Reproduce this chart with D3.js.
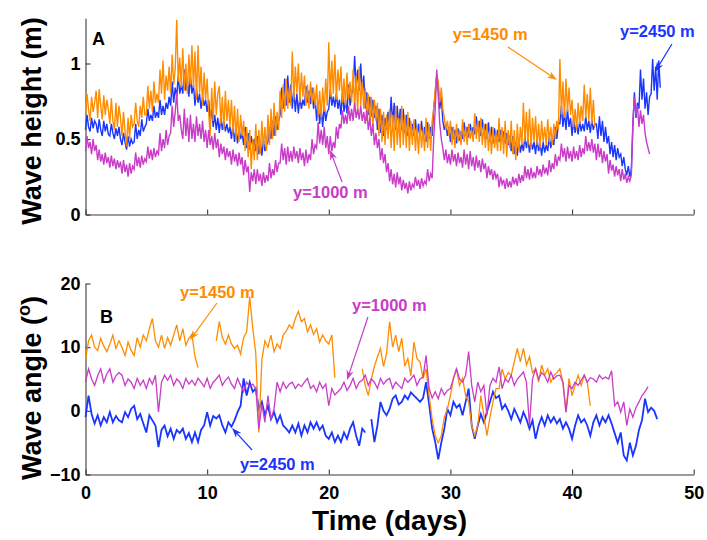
<!DOCTYPE html>
<html>
<head>
<meta charset="utf-8">
<script src="https://cdn.jsdelivr.net/npm/d3@7"></script>
<style>
  body { margin: 0; background: #fff; }
  svg { display: block; }
  text { font-family: "Liberation Sans", Arial, Helvetica, sans-serif; font-weight: bold; }
</style>
</head>
<body>
<svg id="fig" width="707" height="540"></svg>
<script>
// Sampling intervals (days): wave height every 3 h, wave angle every 6 h
const dtH = 0.125;
const dtA = 0.25;

// Significant wave height (m) at the three alongshore stations
const hs1000 = [
  0.42,0.52,0.44,0.48,0.40,0.50,0.42,0.46, 0.36,0.43,0.35,0.40,0.33,0.41,0.34,0.38,
  0.31,0.39,0.32,0.37,0.30,0.36,0.31,0.35, 0.27,0.36,0.28,0.33,0.25,0.34,0.27,0.32,
  0.30,0.41,0.32,0.38,0.31,0.39,0.33,0.37, 0.35,0.45,0.37,0.43,0.36,0.44,0.38,0.42,
  0.40,0.54,0.42,0.50,0.44,0.56,0.46,0.52, 0.54,0.72,0.58,0.68,0.81,0.62,0.66,0.56,
  0.50,0.70,0.52,0.64,0.48,0.66,0.50,0.60, 0.48,0.65,0.52,0.60,0.50,0.62,0.48,0.56,
  0.44,0.56,0.46,0.52,0.43,0.54,0.44,0.50, 0.38,0.47,0.40,0.45,0.36,0.44,0.38,0.42,
  0.33,0.43,0.35,0.40,0.32,0.41,0.33,0.38, 0.26,0.36,0.28,0.32,0.15,0.28,0.22,0.30,
  0.20,0.30,0.22,0.27,0.19,0.28,0.21,0.26, 0.22,0.34,0.24,0.30,0.26,0.36,0.28,0.34,
  0.34,0.47,0.36,0.44,0.33,0.45,0.35,0.42, 0.35,0.45,0.37,0.42,0.34,0.44,0.36,0.41,
  0.32,0.43,0.34,0.40,0.36,0.50,0.40,0.46, 0.44,0.61,0.47,0.56,0.46,0.58,0.44,0.52,
  0.40,0.52,0.42,0.48,0.44,0.58,0.50,0.60, 0.57,0.69,0.60,0.66,0.60,0.72,0.62,0.70,
  0.62,0.74,0.64,0.70,0.63,0.72,0.62,0.68, 0.60,0.69,0.56,0.64,0.52,0.60,0.46,0.54,
  0.44,0.50,0.36,0.44,0.34,0.40,0.28,0.34, 0.22,0.30,0.20,0.27,0.18,0.28,0.20,0.25,
  0.16,0.23,0.17,0.21,0.14,0.22,0.16,0.20, 0.18,0.25,0.19,0.23,0.17,0.24,0.19,0.22,
  0.20,0.30,0.22,0.27,0.24,0.50,0.70,0.96, 0.78,0.60,0.50,0.44,0.36,0.43,0.34,0.40,
  0.33,0.43,0.35,0.40,0.32,0.41,0.34,0.38, 0.31,0.43,0.33,0.40,0.30,0.42,0.32,0.38,
  0.29,0.39,0.31,0.36,0.28,0.37,0.30,0.34, 0.24,0.32,0.26,0.30,0.23,0.29,0.24,0.27,
  0.18,0.25,0.20,0.23,0.17,0.24,0.18,0.22, 0.18,0.25,0.20,0.24,0.19,0.27,0.21,0.26,
  0.22,0.32,0.24,0.30,0.23,0.31,0.24,0.28, 0.24,0.32,0.26,0.30,0.25,0.33,0.27,0.31,
  0.26,0.36,0.28,0.34,0.30,0.40,0.32,0.38, 0.36,0.47,0.38,0.44,0.35,0.45,0.37,0.42,
  0.35,0.45,0.37,0.42,0.36,0.46,0.38,0.44, 0.40,0.52,0.42,0.48,0.42,0.50,0.41,0.47,
  0.36,0.47,0.38,0.44,0.34,0.42,0.35,0.40, 0.27,0.36,0.29,0.33,0.25,0.32,0.26,0.30,
  0.22,0.30,0.23,0.27,0.21,0.25,0.22,0.26, 0.62,0.78,0.66,0.72,0.58,0.69,0.60,0.66,
  0.54,0.48,0.44,0.40
];
const hs1450 = [
  0.66,0.80,0.70,0.62,0.78,0.68,0.74,0.82, 0.64,0.83,0.72,0.63,0.79,0.66,0.76,0.70,
  0.60,0.77,0.62,0.56,0.74,0.58,0.72,0.64, 0.52,0.68,0.55,0.45,0.64,0.50,0.66,0.58,
  0.60,0.74,0.62,0.58,0.72,0.64,0.78,0.66, 0.66,0.85,0.70,0.82,0.68,0.88,0.74,0.80,
  0.74,0.96,0.80,1.02,0.76,0.92,0.82,0.98, 0.80,1.06,0.86,0.96,1.29,0.88,1.04,0.84,
  1.10,0.82,1.00,0.80,1.06,0.86,1.12,0.84, 1.08,0.76,1.12,0.80,0.98,0.72,0.94,0.76,
  0.90,0.68,0.52,0.84,0.62,0.88,0.66,0.80, 0.85,0.60,0.78,0.56,0.82,0.62,0.76,0.58,
  0.76,0.54,0.72,0.50,0.70,0.48,0.66,0.52, 0.62,0.42,0.58,0.38,0.56,0.30,0.50,0.36,
  0.60,0.36,0.56,0.40,0.62,0.44,0.58,0.42, 0.66,0.46,0.70,0.50,0.74,0.52,0.68,0.56,
  0.82,0.64,0.86,0.68,0.90,0.70,0.84,0.72, 1.08,0.76,0.98,0.80,1.00,0.74,0.94,0.78,
  0.92,0.72,0.86,0.70,0.88,0.74,0.84,0.72, 0.86,0.66,0.82,0.64,0.84,0.68,0.90,0.72,
  1.14,0.78,1.02,0.80,1.06,0.76,0.96,0.82, 0.98,0.74,0.90,0.72,0.94,0.76,0.88,0.74,
  0.96,0.70,0.92,0.68,0.98,0.72,0.88,0.70, 0.84,0.62,0.80,0.60,0.78,0.58,0.76,0.62,
  0.74,0.52,0.70,0.48,0.68,0.46,0.66,0.50, 0.70,0.44,0.66,0.42,0.72,0.46,0.64,0.44,
  0.72,0.46,0.66,0.44,0.68,0.42,0.62,0.46, 0.63,0.42,0.58,0.40,0.60,0.44,0.56,0.42,
  0.64,0.44,0.60,0.42,0.62,0.70,0.82,0.93, 0.88,0.74,0.84,0.70,0.64,0.56,0.62,0.52,
  0.62,0.46,0.58,0.44,0.60,0.48,0.56,0.46, 0.63,0.48,0.58,0.46,0.60,0.50,0.56,0.48,
  0.67,0.50,0.62,0.48,0.64,0.46,0.60,0.44, 0.60,0.42,0.56,0.40,0.58,0.44,0.54,0.42,
  0.64,0.42,0.58,0.40,0.62,0.38,0.56,0.44, 0.62,0.40,0.56,0.36,0.60,0.42,0.58,0.46,
  0.74,0.48,0.68,0.46,0.70,0.44,0.64,0.48, 0.65,0.46,0.60,0.44,0.62,0.48,0.58,0.46,
  0.63,0.48,0.58,0.46,0.60,0.50,0.62,0.56, 1.03,0.66,0.88,0.64,0.90,0.68,0.84,0.66,
  0.76,0.58,0.70,0.56,0.74,0.60,0.72,0.62, 0.86,0.64,0.80,0.62,0.84,0.60,0.76,0.58
];
const hs2450 = [
  0.56,0.66,0.58,0.55,0.64,0.57,0.62,0.60, 0.54,0.63,0.56,0.52,0.62,0.55,0.60,0.53,
  0.52,0.60,0.54,0.50,0.57,0.52,0.58,0.50, 0.46,0.54,0.48,0.43,0.52,0.45,0.50,0.47,
  0.48,0.60,0.50,0.56,0.52,0.63,0.55,0.58, 0.60,0.70,0.62,0.66,0.62,0.72,0.64,0.68,
  0.64,0.76,0.66,0.72,0.66,0.74,0.70,0.78, 0.72,0.88,0.74,0.84,0.78,0.92,0.80,0.86,
  0.80,0.96,0.82,0.90,0.78,0.92,0.80,0.86, 0.72,0.83,0.74,0.80,0.70,0.78,0.72,0.76,
  0.68,0.76,0.62,0.70,0.58,0.66,0.56,0.64, 0.54,0.65,0.56,0.62,0.55,0.60,0.54,0.58,
  0.50,0.60,0.48,0.56,0.47,0.58,0.50,0.54, 0.46,0.58,0.44,0.54,0.43,0.52,0.45,0.50,
  0.42,0.52,0.40,0.48,0.39,0.50,0.42,0.46, 0.48,0.58,0.50,0.62,0.52,0.65,0.56,0.62,
  0.66,0.84,0.70,0.90,0.72,0.92,0.74,0.86, 0.70,0.83,0.68,0.80,0.67,0.78,0.70,0.76,
  0.72,0.85,0.74,0.82,0.73,0.84,0.70,0.78, 0.62,0.74,0.60,0.70,0.58,0.72,0.62,0.68,
  0.70,0.83,0.72,0.78,0.71,0.80,0.70,0.76, 0.66,0.81,0.68,0.76,0.67,0.86,0.72,0.80,
  0.82,1.05,0.84,0.96,0.82,1.00,0.80,0.92, 0.70,0.81,0.66,0.78,0.65,0.76,0.64,0.72,
  0.56,0.70,0.54,0.66,0.52,0.64,0.56,0.68, 0.58,0.78,0.60,0.74,0.56,0.72,0.58,0.70,
  0.56,0.70,0.54,0.66,0.52,0.64,0.54,0.60, 0.52,0.63,0.50,0.60,0.52,0.62,0.50,0.58,
  0.48,0.61,0.50,0.58,0.52,0.70,0.80,0.92, 0.84,0.70,0.78,0.62,0.56,0.60,0.52,0.58,
  0.48,0.58,0.50,0.56,0.47,0.57,0.49,0.55, 0.50,0.61,0.52,0.58,0.51,0.60,0.53,0.58,
  0.53,0.65,0.55,0.62,0.52,0.63,0.54,0.60, 0.50,0.61,0.48,0.58,0.47,0.57,0.49,0.56,
  0.48,0.56,0.49,0.55,0.47,0.54,0.46,0.52, 0.42,0.52,0.40,0.48,0.39,0.50,0.41,0.47,
  0.42,0.52,0.44,0.50,0.41,0.49,0.43,0.48, 0.40,0.50,0.42,0.47,0.39,0.48,0.41,0.46,
  0.42,0.52,0.44,0.50,0.46,0.58,0.50,0.60, 0.60,0.72,0.58,0.68,0.56,0.70,0.58,0.64,
  0.52,0.63,0.54,0.60,0.53,0.62,0.55,0.60, 0.55,0.65,0.56,0.62,0.54,0.63,0.56,0.60,
  0.60,0.50,0.65,0.52,0.62,0.48,0.58,0.47, 0.52,0.40,0.48,0.38,0.46,0.36,0.44,0.38,
  0.40,0.32,0.38,0.30,0.26,0.32,0.25,0.30, 0.58,0.81,0.64,0.74,0.70,0.96,0.76,0.90,
  0.70,0.81,0.66,0.78,0.80,1.03,0.82,0.98, 0.76,1.02,0.84
];

// Mean wave angle (degrees); null marks missing records
const ang1000 = [
  4.5,6.6,5.0,4.0, 5.5,6.6,4.5,5.8, 6.6,4.5,5.5,6.0, 5.6,4.0,5.0,4.5,
  3.5,5.1,4.0,4.8, 3.5,5.1,4.2,5.6, -0.2,4.5,5.6,4.8, 5.6,4.0,5.0,4.5,
  3.5,5.1,4.2,4.8, 4.0,5.1,4.5,3.8, 5.1,3.5,4.5,5.0, 5.6,4.0,4.8,5.3,
  4.2,3.5,5.1,4.0, 3.0,4.5,3.8,4.2, 3.5,-2.8,1.0,-1.8, 2.4,-1.3,0.3,4.5,
  3.0,4.5,3.5,4.2, 4.5,3.5,4.2,3.8, 4.5,5.1,3.5,4.0, 3.0,4.5,3.5,4.2,
  0.8,3.5,2.5,3.0, 3.5,4.5,3.2,4.0, 5.1,3.5,4.5,4.8, 5.6,4.0,5.0,4.5,
  3.5,5.1,4.2,4.8, 5.1,3.5,4.5,4.0, 3.5,5.1,4.5,5.0, 5.6,4.0,5.0,5.3,
  8.7,3.5,2.0,3.0, 1.9,3.5,2.5,3.2, 3.5,5.1,6.6,5.0, 4.5,5.6,9.3,4.0,
  1.4,4.5,3.0,4.0, -0.7,4.0,5.1,4.5, 6.9,3.5,5.0,4.5, 5.6,4.0,5.0,5.5,
  6.1,4.5,-2.3,5.0, 6.6,5.0,6.0,5.5, 4.5,6.1,5.0,5.5, 5.6,4.5,-0.2,4.0,
  3.5,4.5,4.0,4.8, 5.6,4.5,5.2,5.0, 4.5,5.6,5.0,5.3, 5.0,6.3,0.8,1.4,
  -0.2,1.4,-2.3,0.3, -1.0,0.5,1.4,2.4, 3.0,3.8
];
const ang1450 = [
  8.0,11.0,11.9,10.0, 9.5,11.4,10.2,9.3, 10.5,11.9,9.8,11.0, 10.0,8.7,10.8,9.5,
  8.7,11.5,10.0,11.9, 11.0,12.9,14.5,11.0, 10.0,11.9,9.8,11.5, 10.3,11.9,13.5,11.0,
  12.9,10.3,11.4,12.0, 8.5,6.8,null,null, null,null,null,11.0, 14.0,11.5,10.5,11.9,
  10.5,9.8,10.3,8.9, 11.5,12.4,17.9,13.0, 9.0,-3.4,8.0,11.0, 10.0,11.9,9.3,10.5,
  9.8,11.9,12.5,13.5, 12.9,14.5,15.6,14.0, 14.5,12.4,13.5,12.0, 12.9,10.8,11.9,11.0,
  10.5,11.9,5.2,null, null,null,null,null, null,null,null,6.6, 4.0,2.4,5.0,7.0,
  8.5,9.8,7.0,9.0, 14.0,10.0,11.9,9.3, 11.4,7.0,8.2,5.5, 10.8,8.2,7.7,5.1,
  6.6,2.4,-1.3,-3.9, -5.0,-3.9,-1.0,0.3, 2.4,5.1,6.6,4.0, 5.1,2.4,1.4,-2.3,
  -3.9,-2.3,2.4,-0.7, -3.9,-1.0,1.4,3.5, 3.5,6.6,5.0,6.0, 5.6,7.7,9.8,7.7,
  9.8,7.2,8.5,6.0, 6.6,4.5,7.2,5.6, 6.6,4.5,5.5,6.0, 6.6,4.5,-0.2,5.1,
  2.4,4.0,5.6,4.0, 5.6,4.5,0.8
];
const ang2450 = [
  -1.0,2.4,-0.5,-2.0, -0.7,-2.3,-1.0,-1.8, -0.2,-1.8,-0.8,-1.5, -1.8,-0.2,-1.0,0.3,
  0.8,-1.3,-0.5,-2.0, -3.4,-0.7,-1.5,-2.3, -5.7,-3.0,-2.3,-4.0, -2.8,-4.4,-3.0,-3.5,
  -2.8,-4.4,-3.5,-4.9, -3.4,-4.9,-3.0,-2.3, -0.2,-2.3,-0.8,-1.2, -0.7,-2.3,-3.4,-1.8,
  -2.5,-1.5,-0.2,0.8, 5.1,2.4,4.5,3.0, 3.5,0.3,1.4,-0.7, 0.8,-1.3,-0.2,-1.8,
  -0.7,-2.3,-2.8,-3.4, -2.3,-3.4,-2.0,-3.9, -2.3,-3.4,-1.8,-2.8, -1.8,-3.0,-2.3,-3.9,
  -4.4,-3.4,-4.9,-3.9, -4.9,-3.4,-4.4,-2.8, -1.8,-3.9,-5.5,-2.8, -3.4,null,-1.3,-4.9,
  -2.3,1.4,0.0,-0.7, 0.3,1.9,2.4,1.0, 1.4,2.4,1.8,2.9, 2.4,1.9,1.4,2.0,
  4.5,1.0,-2.8,-4.9, -7.6,-5.0,-2.8,0.3, -0.7,1.4,0.5,1.0, -0.7,1.4,3.5,-2.3,
  -4.4,-2.3,-0.5,-1.8, -0.2,1.4,3.0,2.0, 2.4,0.3,1.0,0.0, -1.3,0.3,-0.7,-1.8,
  -0.2,-1.3,-2.8,-1.5, -4.4,-2.3,-1.0,-2.3, -0.7,-1.8,-1.0,-2.0, -1.3,-2.8,-1.8,-2.8,
  -4.4,-2.3,-0.7,-1.8, -1.3,-2.3,-3.9,-1.8, -0.7,-2.3,-1.0,-1.8, -0.7,-2.0,-3.5,-5.0,
  -3.4,-7.0,-7.8,-5.0, -7.0,-5.5,-3.0,-1.5, 1.9,-0.2,0.5,0.0, -1.3
];

// Axis ticks
const timeTicks = [0, 10, 20, 30, 40, 50];
const heightTicks = [0, 0.5, 1];
const angleTicks = [-10, 0, 10, 20];

const COL = { y1000: "#c83cc8", y1450: "#ff8c00", y2450: "#1a35ff" };
const AXIS = "#3a3a3a";

const svg = d3.select("#fig");

const x = d3.scaleLinear([0, 50], [85.5, 693.7]);
const yH = d3.scaleLinear([0, 1.3], [214.5, 18.2]);
const yA = d3.scaleLinear([-10, 20], [474.5, 283.5]);

function styleAxis(g) {
  g.select(".domain").attr("stroke", AXIS).attr("stroke-width", 1.1);
  g.selectAll(".tick line").attr("stroke", AXIS).attr("stroke-width", 1.1);
  g.selectAll(".tick text").attr("fill", "#000").style("font-size", "18px")
    .style("font-family", '"Liberation Sans", Arial, sans-serif').style("font-weight", "bold");
}

// ---- Panel A: wave height ----
svg.append("g").attr("transform", `translate(0,${yH(0)})`)
  .call(d3.axisBottom(x).tickValues(timeTicks).tickSize(-5).tickSizeOuter(0).tickFormat(""))
  .call(styleAxis);
svg.append("g").attr("transform", `translate(${x(0)},0)`)
  .call(d3.axisLeft(yH).tickValues(heightTicks).tickSize(-5).tickSizeOuter(0).tickPadding(5)
    .tickFormat(d => String(d)))
  .call(styleAxis);

const lineH = d3.line().defined(v => v != null).x((v, i) => x(i * dtH)).y(v => yH(v));
[[hs2450, COL.y2450], [hs1450, COL.y1450], [hs1000, COL.y1000]].forEach(([s, c]) => {
  svg.append("path").datum(s).attr("d", lineH)
    .attr("fill", "none").attr("stroke", c).attr("stroke-width", 1.4);
});

// ---- Panel B: wave angle ----
svg.append("g").attr("transform", `translate(0,${yA(-10)})`)
  .call(d3.axisBottom(x).tickValues(timeTicks).tickSize(-5).tickSizeOuter(0).tickPadding(12))
  .call(styleAxis);
svg.append("g").attr("transform", `translate(${x(0)},0)`)
  .call(d3.axisLeft(yA).tickValues(angleTicks).tickSize(-5).tickSizeOuter(0).tickPadding(5)
    .tickFormat(d => d < 0 ? "\u2212" + Math.abs(d) : String(d)))
  .call(styleAxis);

const lineA = d3.line().defined(v => v != null).x((v, i) => x(i * dtA)).y(v => yA(v));
[[ang2450, COL.y2450, 1.8], [ang1450, COL.y1450, 1.3], [ang1000, COL.y1000, 1.3]].forEach(([s, c, w]) => {
  svg.append("path").datum(s).attr("d", lineA)
    .attr("fill", "none").attr("stroke", c).attr("stroke-width", w);
});

// ---- Station labels with arrows (positions in data units) ----
const notes = [
  { y: yH, label: "y=1450 m", c: COL.y1450, t: [30.2, 1.156], from: [34.73, 1.109], to: [38.76, 0.891] },
  { y: yH, label: "y=2450 m", c: COL.y2450, t: [43.94, 1.175], from: [48.21, 1.129], to: [46.81, 0.944] },
  { y: yH, label: "y=1000 m", c: COL.y1000, t: [17.06, 0.109], from: [21.09, 0.215], to: [20.1, 0.427] },
  { y: yA, label: "y=1450 m", c: COL.y1450, t: [7.77, 17.72], from: [10.81, 16.94], to: [8.59, 11.12] },
  { y: yA, label: "y=1000 m", c: COL.y1000, t: [21.91, 15.68], from: [23.22, 14.74], to: [21.5, 4.84] },
  { y: yA, label: "y=2450 m", c: COL.y2450, t: [12.7, -9.29], from: [13.69, -6.15], to: [12.04, -2.70] }
];
notes.forEach(n => {
  const x0 = x(n.from[0]), y0 = n.y(n.from[1]), x1 = x(n.to[0]), y1 = n.y(n.to[1]);
  const a = Math.atan2(y1 - y0, x1 - x0), L = 10, W = 3.6;
  const bx = x1 - L * Math.cos(a), by = y1 - L * Math.sin(a);
  const nx = -Math.sin(a), ny = Math.cos(a);
  svg.append("line").attr("x1", x0).attr("y1", y0)
    .attr("x2", x1 - 6 * Math.cos(a)).attr("y2", y1 - 6 * Math.sin(a))
    .attr("stroke", n.c).attr("stroke-width", 1.2);
  svg.append("path")
    .attr("d", `M${x1},${y1}L${bx + W * nx},${by + W * ny}L${x1 - 7 * Math.cos(a)},${y1 - 7 * Math.sin(a)}L${bx - W * nx},${by - W * ny}Z`)
    .attr("fill", n.c);
  svg.append("text").attr("x", x(n.t[0])).attr("y", n.y(n.t[1]))
    .attr("fill", n.c).style("font-size", "16.5px").text(n.label);
});

// ---- Panel letters and axis titles ----
svg.append("text").attr("x", 92).attr("y", 45).style("font-size", "18px").text("A");
svg.append("text").attr("x", 100).attr("y", 323).style("font-size", "18px").text("B");

svg.append("text").attr("transform", "translate(41,121) rotate(-90)")
  .attr("text-anchor", "middle").style("font-size", "27px").text("Wave height (m)");

const angTitle = svg.append("text").attr("transform", "translate(41,388) rotate(-90)")
  .attr("text-anchor", "middle").style("font-size", "27px");
angTitle.append("tspan").text("Wave angle (");
angTitle.append("tspan").attr("dy", -11).style("font-size", "18px").text("o");
angTitle.append("tspan").attr("dy", 11).text(")");

svg.append("text").attr("x", x(25)).attr("y", 530).attr("text-anchor", "middle")
  .style("font-size", "28px").text("Time (days)");
</script>
</body>
</html>
